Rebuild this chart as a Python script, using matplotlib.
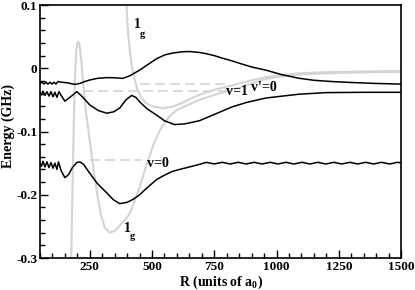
import matplotlib
matplotlib.use("Agg")
import matplotlib.pyplot as plt
from matplotlib.ticker import MultipleLocator

plt.rcParams['font.family'] = ['Liberation Serif', 'DejaVu Serif']
plt.rcParams['font.weight'] = 'bold'
plt.rcParams['mathtext.fontset'] = 'custom'
plt.rcParams['mathtext.rm'] = 'Liberation Serif:bold'
plt.rcParams['mathtext.bf'] = 'Liberation Serif:bold'

# upper v=1 adiabatic curve (black)
xa = [50, 58, 66, 74, 82, 90, 98, 106, 114, 122, 135, 160, 190, 210, 230, 250, 280,
      318, 350, 382, 410, 450, 480, 518, 550, 582, 620, 650, 690, 718, 750, 782, 810,
      850, 900, 958, 1020, 1090, 1150, 1222, 1300, 1400, 1500]
ya = [-0.024, -0.022, -0.025, -0.022, -0.025, -0.022, -0.025, -0.022, -0.025, -0.021,
      -0.022, -0.023, -0.0255, -0.024, -0.021, -0.0185, -0.016, -0.0148, -0.015, -0.016,
      -0.012, -0.003, 0.005, 0.015, 0.021, 0.024, 0.026, 0.0265, 0.025, 0.023, 0.020,
      0.016, 0.013, 0.008, 0.002, -0.003, -0.010, -0.0158, -0.019, -0.021, -0.0225,
      -0.024, -0.025]

# lower v=1 adiabatic curve (black)
xb = [50, 56, 62, 70, 78, 86, 94, 102, 110, 118, 126, 135, 150, 170, 198, 220, 250,
      285, 318, 345, 370, 395, 418, 435, 450, 480, 518, 550, 590, 630, 690, 750, 822,
      880, 958, 1090, 1200, 1350, 1500]
yb = [-0.038, -0.042, -0.036, -0.043, -0.037, -0.044, -0.037, -0.045, -0.038, -0.046,
      -0.037, -0.043, -0.052, -0.046, -0.037, -0.045, -0.058, -0.067, -0.071, -0.069,
      -0.063, -0.050, -0.043, -0.046, -0.053, -0.064, -0.074, -0.083, -0.089, -0.088,
      -0.083, -0.073, -0.061, -0.054, -0.047, -0.041, -0.0385, -0.038, -0.038]

# v=0 adiabatic curve (black)
xe = [50, 56, 62, 70, 78, 86, 94, 102, 110, 118, 124, 135, 150, 165, 180, 198, 210,
      225, 250, 280, 318, 345, 370, 400, 425, 450, 480, 518, 550, 582, 620, 650, 690,
      718, 750, 782, 814, 846, 878, 910, 942, 974, 1006, 1038, 1070, 1102, 1134, 1166,
      1198, 1230, 1262, 1294, 1326, 1358, 1390, 1422, 1454, 1486, 1500]
ye = [-0.150, -0.155, -0.147, -0.156, -0.148, -0.157, -0.149, -0.158, -0.150, -0.160,
      -0.148, -0.162, -0.173, -0.168, -0.157, -0.149, -0.148, -0.152, -0.166, -0.182,
      -0.197, -0.208, -0.214, -0.212, -0.207, -0.200, -0.189, -0.176, -0.169, -0.163,
      -0.159, -0.156, -0.152, -0.1488, -0.1512, -0.1487, -0.1513, -0.1487, -0.1513,
      -0.1487, -0.1513, -0.1487, -0.1513, -0.1487, -0.1513, -0.1487, -0.1513, -0.1487,
      -0.1513, -0.1487, -0.1513, -0.1487, -0.1513, -0.1487, -0.1513, -0.1487, -0.1513,
      -0.1487, -0.1495]

# 1g potentials (gray)
xc = [397, 400, 404, 410, 418, 428, 440, 455, 475, 500, 542, 580, 620, 660, 690, 750,
      822, 900, 958, 1020, 1090, 1200, 1350, 1500]
yc = [0.105, 0.08, 0.055, 0.03, 0.005, -0.015, -0.032, -0.045, -0.055, -0.060, -0.063,
      -0.061, -0.055, -0.047, -0.042, -0.034, -0.027, -0.019, -0.014, -0.011, -0.008,
      -0.0062, -0.005, -0.0043]
xd = [175, 180, 185, 190, 195, 200, 204, 208, 214, 222, 235, 250, 265, 280, 295, 310,
      330, 350, 370, 395, 410, 430, 450, 480, 510, 540, 570, 600, 650, 690, 750, 822,
      900, 958, 1020, 1090, 1200, 1350, 1500]
yd = [-0.31, -0.2, -0.1, -0.02, 0.025, 0.040, 0.042, 0.038, 0.02, -0.018, -0.07, -0.115,
      -0.16, -0.2, -0.232, -0.252, -0.260, -0.257, -0.249, -0.238, -0.230, -0.210, -0.188,
      -0.150, -0.116, -0.092, -0.076, -0.066, -0.057, -0.050, -0.042, -0.034, -0.024,
      -0.017, -0.013, -0.0098, -0.008, -0.0065, -0.0058]

# bound state levels (dashed): (y, x start, x end)
levels = [(-0.025, 450, 800), (-0.036, 222, 800), (-0.145, 250, 455)]

fig = plt.figure(figsize=(4.15, 2.9), dpi=100)
ax = fig.add_axes([0.0964, 0.1103, 0.8699, 0.8724])

gray = '#d4d4d4'
ax.plot(xc, yc, color=gray, lw=1.5)
ax.plot(xd, yd, color=gray, lw=1.5)
for y, x0, x1 in levels:
    ax.plot([x0, x1], [y, y], color=gray, lw=1.2, dashes=[6, 3])
ax.plot(xa, ya, color='black', lw=1.1)
ax.plot(xb, yb, color='black', lw=1.1)
ax.plot(xe, ye, color='black', lw=1.1)

tfont = dict(fontsize=10, fontweight='bold')
ax.text(440, 0.069, '1', ha='center', va='center', **tfont)
ax.text(463, 0.054, 'g', ha='center', va='center', fontsize=7.5, fontweight='bold')
ax.text(400, -0.253, '1', ha='center', va='center', **tfont)
ax.text(420, -0.266, 'g', ha='center', va='center', fontsize=7.5, fontweight='bold')
ax.text(840, -0.0367, 'v=1', ha='center', va='center', **tfont)
ax.text(948, -0.031, "v'=0", ha='center', va='center', **tfont)
ax.text(522, -0.150, 'v=0', ha='center', va='center', **tfont)

ax.set_xlim(50, 1500)
ax.set_ylim(-0.3, 0.1)
xticks = [250, 500, 750, 1000, 1250, 1500]
yticks = [-0.3, -0.2, -0.1, 0, 0.1]
ax.set_xticks(xticks)
ax.set_xticklabels([str(t) for t in xticks])
ax.set_yticks(yticks)
ax.set_yticklabels(['-0.3', '-0.2', '-0.1', '0', '0.1'])
ax.xaxis.set_minor_locator(MultipleLocator(50))
ax.yaxis.set_minor_locator(MultipleLocator(0.02))
ax.tick_params(which='both', direction='in', top=False, right=False, labelsize=9.5)
ax.tick_params(which='major', length=6, width=1, pad=2)
ax.tick_params(which='minor', length=3.5, width=1)
for lab in ax.get_xticklabels() + ax.get_yticklabels():
    lab.set_fontweight('bold')
for s in ax.spines.values():
    s.set_linewidth(1.2)

ax.set_xlabel('R (units of a$_{0}$)', fontsize=10, fontweight='bold')
ax.set_ylabel('Energy (GHz)', fontsize=10, fontweight='bold')
ax.xaxis.set_label_coords(0.501, -0.062)
ax.yaxis.set_label_coords(-0.088, 0.52)
ax.xaxis.label.set_va('top')
ax.yaxis.label.set_va('center')

fig.savefig('out.png', dpi=100)
